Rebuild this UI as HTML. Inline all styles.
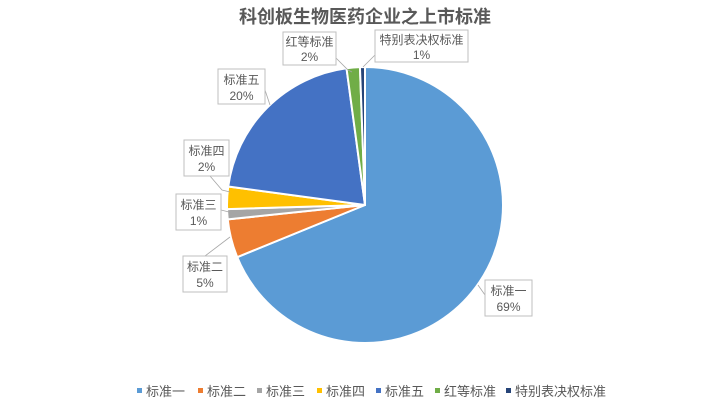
<!DOCTYPE html>
<html><head><meta charset="utf-8"><style>
body{margin:0;background:#fff;}
svg text{font-family:"Liberation Sans","Noto Sans CJK SC",sans-serif;fill:#595959;}
</style></head><body>
<svg id="s" width="716" height="407" xmlns="http://www.w3.org/2000/svg">
<rect width="716" height="407" fill="#fff"/>
<text x="365" y="23" font-size="18" font-weight="bold" text-anchor="middle">科创板生物医药企业之上市标准</text>
<g id="pie"></g>
<g stroke="#a6a6a6" stroke-width="0.8" fill="none">
<polyline points="336,58 348,70 352,72"/>
<polyline points="375,55 363,67"/>
<polyline points="265,90 270,105"/>
<polyline points="210,176 222,190 230,192"/>
<polyline points="221,210 229,212"/>
<polyline points="205,256 230,237"/>
<polyline points="485,295 478,285"/>
</g>
<g fill="#fff" stroke="#bfbfbf" stroke-width="1">
<rect x="283" y="32" width="53" height="33"/>
<rect x="375" y="30" width="93" height="32"/>
<rect x="218" y="69" width="47" height="35"/>
<rect x="184" y="140" width="45" height="36"/>
<rect x="176" y="194" width="45" height="36"/>
<rect x="183" y="256" width="44" height="36"/>
<rect x="485" y="280" width="47" height="36"/>
</g>
<g font-size="12" text-anchor="middle">
<text x="309.5" y="46">红等标准</text><text x="309.5" y="61">2%</text>
<text x="421.5" y="44">特别表决权标准</text><text x="421.5" y="59">1%</text>
<text x="241.5" y="84">标准五</text><text x="241.5" y="100">20%</text>
<text x="206.5" y="155">标准四</text><text x="206.5" y="171">2%</text>
<text x="198.5" y="209">标准三</text><text x="198.5" y="225">1%</text>
<text x="205" y="271">标准二</text><text x="205" y="287">5%</text>
<text x="508.5" y="295">标准一</text><text x="508.5" y="311">69%</text>
</g>
<g font-size="13">
<rect x="137" y="388" width="5" height="5" fill="#5B9BD5"/><text x="146" y="396">标准一</text>
<rect x="198" y="388" width="5" height="5" fill="#ED7D31"/><text x="207" y="396">标准二</text>
<rect x="257" y="388" width="5" height="5" fill="#A5A5A5"/><text x="266" y="396">标准三</text>
<rect x="317" y="388" width="5" height="5" fill="#FFC000"/><text x="326" y="396">标准四</text>
<rect x="376" y="388" width="5" height="5" fill="#4472C4"/><text x="385" y="396">标准五</text>
<rect x="435" y="388" width="5" height="5" fill="#70AD47"/><text x="444" y="396">红等标准</text>
<rect x="506" y="388" width="5" height="5" fill="#264478"/><text x="515" y="396">特别表决权标准</text>
</g>
</svg>
<script>
var cx=365,cy=205,r=138;
var d=[[0,247.8,"#5B9BD5"],[247.8,264,"#ED7D31"],[264,268.3,"#A5A5A5"],[268.3,277.7,"#FFC000"],[277.7,352.3,"#4472C4"],[352.3,357.9,"#70AD47"],[357.9,360,"#264478"]];
function p(a){var t=(a-90)*Math.PI/180;return [cx+r*Math.cos(t),cy+r*Math.sin(t)];}
var g=document.getElementById("pie"),h="";
d.forEach(function(s){var a=p(s[0]),b=p(s[1]),l=(s[1]-s[0])>180?1:0;
h+='<path d="M'+cx+','+cy+' L'+a[0]+','+a[1]+' A'+r+','+r+' 0 '+l+' 1 '+b[0]+','+b[1]+' Z" fill="'+s[2]+'" stroke="#fff" stroke-width="2" stroke-linejoin="round"/>';});
g.innerHTML=h;
</script>
</body></html>
